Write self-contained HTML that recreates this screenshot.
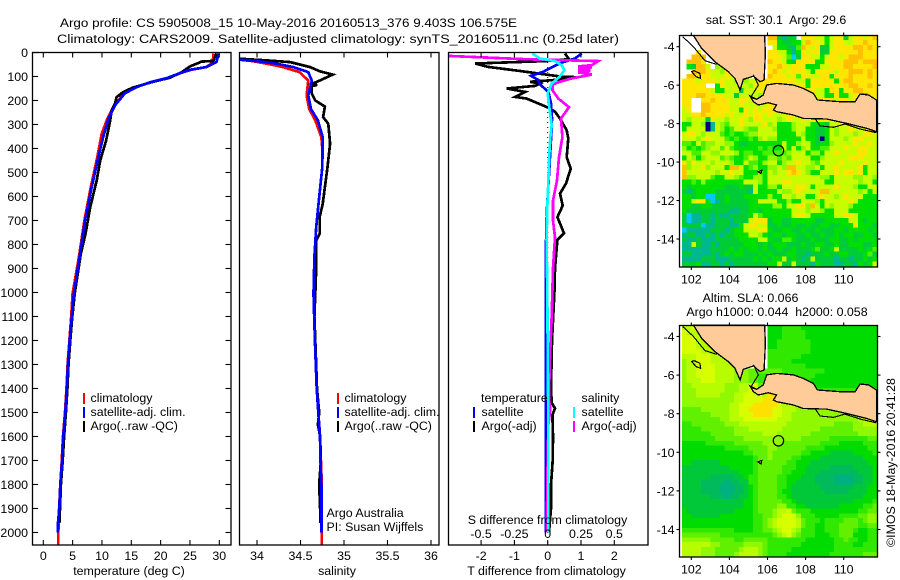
<!DOCTYPE html>
<html lang="en">
<head>
<meta charset="utf-8">
<title>Argo profile</title>
<style>
html,body{margin:0;padding:0;background:#fff;width:900px;height:580px;overflow:hidden}
svg{display:block}
text{font-family:"Liberation Sans",sans-serif;font-size:12.4px;fill:#000}
.frame{fill:none;stroke:#000;stroke-width:1.3}
.line{fill:none;stroke-width:2.7;shape-rendering:crispEdges;stroke-linejoin:miter}
</style>
</head>
<body>
<svg id="chart" xmlns="http://www.w3.org/2000/svg" width="900" height="580" viewBox="0 0 900 580">
<text x="60" y="27" textLength="457" lengthAdjust="spacingAndGlyphs">Argo profile: CS 5905008_15 10-May-2016 20160513_376 9.403S 106.575E</text>
<text x="57" y="43" textLength="562" lengthAdjust="spacingAndGlyphs">Climatology: CARS2009. Satellite-adjusted climatology: synTS_20160511.nc (0.25d later)</text>

<g id="p1"></g>
<g id="p2"></g>
<g id="p3"></g>
<g id="m1"></g>
<g id="m2"></g>

<rect class="frame" x="32.5" y="52.5" width="198.5" height="492.5"/>
<rect class="frame" x="239.5" y="52.5" width="199.5" height="492.5"/>
<rect class="frame" x="448.5" y="52.5" width="199.5" height="492.5"/>
<rect class="frame" x="679.5" y="35.5" width="198" height="231.5"/>
<rect class="frame" x="679.5" y="325.5" width="198" height="231.5"/>

<g id="labels"></g>

<text x="129" y="575" text-anchor="middle">temperature (deg C)</text>
<text x="337" y="575" text-anchor="middle">salinity</text>
<text x="546.5" y="575" text-anchor="middle">T difference from climatology</text>
<text x="547.5" y="524" text-anchor="middle">S difference from climatology</text>

<g>
<rect x="83" y="393" width="2" height="11" fill="#f00"/>
<text x="90.5" y="402">climatology</text>
<rect x="83" y="407" width="2" height="11" fill="#00f"/>
<text x="90.5" y="416">satellite-adj. clim.</text>
<rect x="83" y="421" width="2" height="11" fill="#000"/>
<text x="90.5" y="430">Argo(..raw -QC)</text>
</g>
<g>
<rect x="337" y="393" width="2" height="11" fill="#f00"/>
<text x="344.5" y="402">climatology</text>
<rect x="337" y="407" width="2" height="11" fill="#00f"/>
<text x="344.5" y="416">satellite-adj. clim.</text>
<rect x="337" y="421" width="2" height="11" fill="#000"/>
<text x="344.5" y="430">Argo(..raw -QC)</text>
<text x="326.5" y="517">Argo Australia</text>
<text x="326.5" y="531">PI: Susan Wijffels</text>
</g>
<g>
<text x="481" y="402">temperature</text>
<text x="581.5" y="402">salinity</text>
<rect x="473" y="407" width="2" height="11" fill="#00f"/>
<text x="481.5" y="416">satellite</text>
<rect x="473" y="421" width="2" height="11" fill="#000"/>
<text x="481.5" y="430">Argo(-adj)</text>
<rect x="573" y="407" width="2" height="11" fill="#0ff"/>
<text x="581.5" y="416">satellite</text>
<rect x="573" y="421" width="2" height="11" fill="#f0f"/>
<text x="581.5" y="430">Argo(-adj)</text>
</g>

<text x="776" y="24" text-anchor="middle" xml:space="preserve">sat. SST: 30.1  Argo: 29.6</text>
<text x="750.5" y="302" text-anchor="middle">Altim. SLA: 0.066</text>
<text x="777" y="316" text-anchor="middle" xml:space="preserve">Argo h1000: 0.044  h2000: 0.058</text>
<text transform="translate(895 547) rotate(-90)">©IMOS 18-May-2016 20:41:28</text>
</svg>
<script>
// ---------- profile data ----------
const depthTicks = [0,100,200,300,400,500,600,700,800,900,1000,1100,1200,1300,1400,1500,1600,1700,1800,1900,2000];
const tempTicks = [0,5,10,15,20,25,30];
const salTicks = [34,34.5,35,35.5,36];
const salTickLabels = ['34','34.5','35','35.5','36'];
const tDiffTicks = [-2,-1,0,1,2];
const sDiffTicks = [-0.5,-0.25,0,0.25,0.5];
const sDiffTickLabels = ['-0.5','-0.25','0','0.25','0.5'];

const climTempDepth = [4,36,50,61,72,86,107,124,144,170,221,276,339,436,561,700,839,1005,1100,1200,1300,1400,1500,1600,1700,1800,1900,2000,2054];
const climTempValue = [29,28.9,28.5,27.7,25.2,23.4,21,18.2,15.8,13.8,12.1,10.9,9.95,9.2,8.1,7,6.15,5,4.75,4.45,4.15,3.95,3.7,3.35,3.15,2.9,2.7,2.55,2.55];
const argoTempDepth = [4,35,38,58,82,105,124,146,165,186,214,241,283,367,450,533,645,756,839,1005,1100,1200,1300,1400,1500,1600,1700,1800,1900,1960];
const argoTempValue = [29.5,29,27,25,23.6,21.6,18.4,15.3,13.6,12.5,12.2,11.65,11.4,10.7,9.7,9.1,8,7.2,6.4,5.35,4.95,4.6,4.3,4.1,3.85,3.55,3.3,3,2.85,2.75];
const satTempDepth = [4,40,61,72,86,107,124,144,170,221,276,353,436,561,700,839,1005,1100,1200,1300,1400,1500,1600,1700,1800,1900,1960,2000];
const satTempValue = [29.9,29.5,27.8,25,23.3,21,18.2,15.9,13.9,12.2,11.1,10.2,9.4,8.25,7.1,6.25,5.2,4.85,4.5,4.2,4,3.75,3.4,3.2,2.9,2.73,2.5,2.5];

const climSalDepth = [30,36,47,61,82,117,179,235,283,353,400,478,603,728,853,1005,1200,1400,1500,1600,1700,1800,2054];
const climSalValue = [33.8,33.95,34.12,34.3,34.49,34.59,34.57,34.6,34.67,34.74,34.75,34.75,34.715,34.68,34.66,34.65,34.665,34.69,34.705,34.725,34.735,34.745,34.745];
const argoSalDepth = [26,33,40,61,78,92,117,131,136,140,171,200,225,269,297,380,478,561,631,686,756,783,900,1005,1100,1200,1400,1500,1550,1600,1700,1800,1900,1960];
const argoSalValue = [33.8,34.11,34.38,34.61,34.72,34.87,34.72,34.63,34.69,34.63,34.63,34.67,34.78,34.76,34.82,34.84,34.81,34.78,34.755,34.72,34.72,34.68,34.68,34.67,34.66,34.67,34.69,34.715,34.7,34.725,34.735,34.715,34.725,34.73];
const satSalDepth = [30,36,47,61,82,117,179,235,283,353,478,603,728,853,1005,1200,1400,1500,1600,1700,1800,2000];
const satSalValue = [33.8,34,34.23,34.42,34.59,34.63,34.59,34.62,34.7,34.755,34.75,34.715,34.68,34.66,34.65,34.665,34.686,34.705,34.724,34.73,34.74,34.74];

const argoTDiffDepth = [4,28,36,42,46,60,78,101,103,111,122,129,139,150,164,185,192,230,247,275,324,358,436,484,546,588,638,686,753,780,900,1000,1200,1400,1460,1483,1510,1600,1700,1800,1900,2000];
const argoTDiffValue = [0.52,0.64,-0.08,-1.38,-2.18,-1.79,-0.78,0.42,0.87,0.57,-0.53,-0.23,-0.38,-1.23,-0.68,-0.98,-0.63,0.02,0.22,0.37,0.57,0.62,0.57,0.69,0.55,0.37,0.45,0.29,0.49,0.29,0.22,0.2,0.13,0.1,0.12,0.22,0.14,0.16,0.15,0.1,0.1,0.04];
const satTDiffDepth = [4,25,42,55,80,97,115,133,164,212,275,312,436,550,670,800,1000,1500,2000];
const satTDiffValue = [1.02,0.82,0.42,0.22,-0.13,-0.5,-0.28,-0.23,0.02,0.1,0.13,0.12,0.07,0.02,-0.03,-0.05,-0.05,-0.05,-0.05];
const argoSDiffDepth = [14,28,36,53,58,62,66,70,74,78,83,92,108,122,133,157,192,228,275,353,436,533,617,700,770,900,1100,1300,1450,1483,1550,1700,1900,2000];
const argoSDiffValue = [-0.75,-0.17,0.38,0.33,0.23,0.33,0.23,0.32,0.23,0.32,0.23,0.33,0.18,0.09,0.04,0.035,0.08,0.16,0.1,0.11,0.085,0.07,0.04,0.04,0.055,0.04,0.03,0.015,0.01,0.02,0.005,0,-0.005,-0.005];
const satSDiffDepth = [4,25,36,53,74,100,129,170,219,303,350,421,533,644,780,1000,1500,2000];
const satSDiffValue = [-0.115,-0.06,0.055,0.105,0.125,0.09,0.03,0,0.01,0.03,0.02,0.012,0.005,-0.003,-0.008,-0.003,0.004,0.005];

// ---------- map data: "west|east", 18 and 23 cells, north to south, 0.25 degree ----------
const mapLonTicks = [102,104,106,108,110];
const mapLatTicks = [-4,-6,-8,-10,-12,-14];
const argoLon = 106.575;
const argoLat = -9.403;
const sstRows = [
"|993233.8887747883788789","|88433447988747887788988","|.7443259878337888899898","...8|88774248788338888889888",
"..999|88875138877478878999888",".9998|98874388884488889998999",".43997.67|88987888444778889988889","..99987768|89878888748888788999898",
".9988877787|98887858877884888988898","888788878776767788|88888877488888489988888","88888..48777776888|88888788488888888998898","888888744777377787|88887788887748848899888",
"888998888773777768|78888888887744844788488","88..88988877887766|88888888888888788788348","88..99888877877777|88888888888888888888888","78..99888877487878|88778878778888888888888",
"778898888787787887|87778887887888888788878","767773877677876887|77678778787888887888878","447760276577877778|67444677744437787877887","477770276457765577|76444677443347677877887",
"788767775454456677|77444476443347677767887","777678777545445467|66444447443047776788777","554756677664334444|44474467743446777787787","645456775754444454|54474746744557778778877",
"775577667776455445|55556777466477877778877","476467775654457644|66565777744677777888777","868777677764475546|77467787765777787777877","967786777499745644|66769977667477877778477",
"977777767787744464|76778987644777878878477","966777544776544664|77777777777664777766776","445464444444477764|77788777777744777776774","434444444333433744|66477788747777877764477",
"323444433333332744|44766787777997777776747","443441133433344444|64477677447877678777444","447884123433334477|77446447776477777874444","443344333333334444|46647788697476777644444",
"433333333322334434|44444777677644777444444","312233232233334754|44444788744444778874444","312233233323337888|34433444443344444774344","333312233322478877|33433433433443344484443",
"122222333234477788|43344334334333443444434","233223232334447764|34434433433433434433443","322322233333444477|43355433343334433434444","227322323333344434|34443334334433433444334",
"222222333343434434|33433433345334733334345","332222323434433343|43334433233343344333453","222233322233333434|34473432373333233233434","333422332323333333|44733733324333223324347"
];
const slaRows = [
"778|33344443333333333333333","8777|33344444333333333333333","88877|33344444333333333333333","888777|33444444433333333333333",
"8887777|33444444433333333333333","88887777|44444444433333333333333","777888777|44444443333333333333333","6778887777|44444333333333333333333",
"677888877776|44444444333333333333333","677888877776665555|55544444444433333333333","677888877776665544|55544444443333333333333","677788877776665544|55554444433333333333333",
"667777777666778855|66555444443333333333333","666777777666778866|77665555444444444444444","666777776667788887|99666666666666666666666","666666666667788889|99888776666666666666666",
"666666666677888999|99877766666666666666666","555566666677889999|98877766666666666666655","555555666677888999|98877666666666666666655","555555556677788888|88777666666666666667777",
"445555555666777777|77776666666666555566777","444455555556667777|77766666666555555566666","444444555556666667|77666666655555555556666","444444455555566666|66666665555554444444455",
"333334444445555556|66655555555444433333444","333333333444445555|66555555444433333333344","333333333333344555|65555554433332222233334","333333333333333455|65555443333222222222333",
"332222223333333455|55554433322222222222233","222222222233333455|55544433222221111122223","222222222222333455|55544333222111111112223","222222111112234455|55443332221111000011223",
"222211111011224455|55443322221111000011223","222211110001123455|55443222222111111122233","222211110001123455|55433222222211111222233","222222111011223455|55443222222222222222333",
"222222222222233455|55544322222222222233334","222222222222233455|55664433222222233333445","322222222223333455|56778544433333333334455","332222223333333445|56788864443333344445566",
"333333333333333445|67888875444344445554566","333333333333333445|67888875443344455554455","444444444443333445|56788764443344455543344","555555554444444444|45678654443334455533344",
"666666555554455555|44444444333333445443344","777777665555566665|44444443333333444433444","777766655555677765|44444333333333444444444","777766655556777765|44443333333334444444555"
];
const sumatraLon = [102.11,102.54,103.24,103.94,104.29,104.56,104.73,105.26,105.61,105.82,105.89,105.85];
const sumatraLat = [-3.41,-4.09,-4.78,-5.3,-5.65,-6.25,-5.7,-5.53,-5.82,-5.73,-4.35,-3.41];
const javaLon = [105.08,105.43,105.78,105.96,106.48,107.36,107.88,108.41,108.62,109.81,110.6,110.86,111.3,111.72,111.72,111.21,110.16,109.11,107.88,107.36,106.48,106.31,106.48,106.04,105.52,105.26];
const javaLat = [-6.56,-6.74,-6.51,-5.99,-5.91,-5.99,-6.17,-6.43,-6.77,-6.86,-6.86,-6.46,-6.51,-6.77,-8.42,-8.25,-7.99,-7.76,-7.73,-7.55,-7.38,-7.29,-7.03,-6.91,-7.03,-6.86];
const westContourLon = [101.55,102.11,102.72,103.33];
const westContourLat = [-3.48,-4,-4.73,-4.92];
const southContourLon = [108.49,108.76,109.46,110.07,110.86,111.7];
const southContourLat = [-7.73,-8.12,-8.19,-8.02,-8.28,-8.47];
const straitLon = [105.26,105.52,105.12,105.43];
const straitLat = [-5.46,-5.99,-6.63,-6.74];
const islandLon = [102.14,102.45,102.49,102.25,102.02,102.14];
const islandLat = [-5.25,-5.39,-5.65,-5.56,-5.3,-5.25];
const tinyIslandLon = [105.5,105.7,105.66,105.5];
const tinyIslandLat = [-10.5,-10.42,-10.6,-10.5];
const sstPalette = ['#00008c','#00c8ff','#00b890','#00cc38','#00e000','#48f000','#90f800','#c8fc00','#ffe600','#ffc000'];
const slaPalette = ['#00b080','#00ba5c','#00c838','#00dc00','#30e800','#60f000','#90f800','#b8fc00','#d8ff00','#ffe000'];

// ---------- axis functions ----------
const NS = 'http://www.w3.org/2000/svg';
const yDepth = d => 52.5 + d * 0.24;
const xTemp = t => 43.3 + t * 5.867;
const xSal = s => 257 + (s - 34) * 87;
const xTDiff = v => 547.7 + v * 33.3;
const xSDiff = v => 547.7 + v * 133.2;
const xLon = lon => 691.3 + (lon - 102) * 19.05;
const yLat1 = lat => 46.7 + (-4 - lat) * 19.23;
const yLat2 = lat => 336.5 + (-4 - lat) * 19.3;
const byId = id => document.getElementById(id);

function make(parent, tag, attrs) {
  const el = document.createElementNS(NS, tag);
  for (const k in attrs) el.setAttribute(k, attrs[k]);
  parent.appendChild(el);
  return el;
}
function profile(parent, name, xFn, depths, values, color) {
  const pts = depths.map((d, i) => xFn(values[i]).toFixed(1) + ',' + yDepth(d).toFixed(1)).join(' ');
  const el = make(parent, 'polyline', {points: pts, stroke: color, class: 'line'});
  
  
}
function tick(parent, name, x1, y1, x2, y2) {
  const el = make(parent, 'line', {x1: x1, y1: y1, x2: x2, y2: y2, stroke: '#000', 'stroke-width': 1.1});
  
  
}
function label(name, x, y, anchor, str) {
  const el = make(byId('labels'), 'text', {x: x, y: y, 'text-anchor': anchor});
  el.textContent = str;
  
  
}

// ---------- profile panels ----------
profile(byId('p1'), 'temperature-climatology-line', xTemp, climTempDepth, climTempValue, '#f00');
profile(byId('p1'), 'temperature-argo-line', xTemp, argoTempDepth, argoTempValue, '#000');
profile(byId('p1'), 'temperature-satellite-line', xTemp, satTempDepth, satTempValue, '#00f');
profile(byId('p2'), 'salinity-climatology-line', xSal, climSalDepth, climSalValue, '#f00');
profile(byId('p2'), 'salinity-argo-line', xSal, argoSalDepth, argoSalValue, '#000');
profile(byId('p2'), 'salinity-satellite-line', xSal, satSalDepth, satSalValue, '#00f');

const zeroLine = make(byId('p3'), 'line', {x1: xTDiff(0), y1: 52, x2: xTDiff(0), y2: 545, stroke: '#000', 'stroke-width': 1, 'stroke-dasharray': '1 4'});


profile(byId('p3'), 't-difference-argo-line', xTDiff, argoTDiffDepth, argoTDiffValue, '#000');
profile(byId('p3'), 't-difference-satellite-line', xTDiff, satTDiffDepth, satTDiffValue, '#00f');
profile(byId('p3'), 's-difference-argo-line', xSDiff, argoSDiffDepth, argoSDiffValue, '#f0f');
profile(byId('p3'), 's-difference-satellite-line', xSDiff, satSDiffDepth, satSDiffValue, '#0ff');

depthTicks.forEach(d => {
  tick(byId('p1'), 'depth-tick-left', 32.5, yDepth(d), 38, yDepth(d));
  tick(byId('p1'), 'depth-tick-right', 225.5, yDepth(d), 231, yDepth(d));
  label('depth-tick-label', 28, yDepth(d) + 4.5, 'end', String(d));
});
tempTicks.forEach(t => {
  tick(byId('p1'), 'temperature-tick-top', xTemp(t), 52.5, xTemp(t), 57.5);
  tick(byId('p1'), 'temperature-tick-bottom', xTemp(t), 540, xTemp(t), 545);
  label('temperature-tick-label', xTemp(t), 560, 'middle', String(t));
});
salTicks.forEach((s, i) => {
  tick(byId('p2'), 'salinity-tick-top', xSal(s), 52.5, xSal(s), 57.5);
  tick(byId('p2'), 'salinity-tick-bottom', xSal(s), 540, xSal(s), 545);
  label('salinity-tick-label', xSal(s), 560, 'middle', salTickLabels[i]);
});
tDiffTicks.forEach(v => {
  tick(byId('p3'), 't-difference-tick-top', xTDiff(v), 52.5, xTDiff(v), 57.5);
  tick(byId('p3'), 't-difference-tick-bottom', xTDiff(v), 540, xTDiff(v), 545);
  label('t-difference-tick-label', xTDiff(v), 560, 'middle', String(v));
});
sDiffTicks.forEach((v, i) => {
  label('s-difference-tick-label', xSDiff(v), 538, 'middle', sDiffTickLabels[i]);
});

// ---------- maps ----------
const firstLon = 101.5;
const firstLat = -3.41;
const cellDeg = 0.25;

function coastPoints(lons, lats, yFn) {
  return lons.map((lon, i) => xLon(lon).toFixed(1) + ',' + yFn(lats[i]).toFixed(1)).join(' ');
}
function drawMap(group, prefix, rows, palette, yFn, top, bottom) {
  rows.forEach((row, j) => {
    const parts = row.split('|');
    const full = parts[0].padEnd(18, '.') + (parts[1] || '');
    for (let i = 0; i < full.length; i++) {
      const ch = full[i];
      if (ch === '.') continue;
      const x0 = xLon(firstLon + i * cellDeg);
      const x1 = xLon(firstLon + (i + 1) * cellDeg);
      const y0 = yFn(firstLat - j * cellDeg);
      const y1 = yFn(firstLat - (j + 1) * cellDeg);
      const cell = make(group, 'rect', {x: x0.toFixed(2), y: y0.toFixed(2), width: (x1 - x0 + 0.3).toFixed(2), height: (y1 - y0 + 0.3).toFixed(2), fill: palette[+ch], 'shape-rendering': 'crispEdges'});
      
      
    }
  });
  const sumatra = make(group, 'polygon', {points: coastPoints(sumatraLon, sumatraLat, yFn), fill: '#ffcc99', stroke: '#000', 'stroke-width': 1.3, 'shape-rendering': 'crispEdges'});
  
  
  const java = make(group, 'polygon', {points: coastPoints(javaLon, javaLat, yFn), fill: '#ffcc99', stroke: '#000', 'stroke-width': 1.3, 'shape-rendering': 'crispEdges'});
  
  
  const west = make(group, 'polyline', {points: coastPoints(westContourLon, westContourLat, yFn), fill: 'none', stroke: '#000', 'stroke-width': 1.1, 'shape-rendering': 'crispEdges'});
  
  
  const south = make(group, 'polyline', {points: coastPoints(southContourLon, southContourLat, yFn), fill: 'none', stroke: '#000', 'stroke-width': 1.1, 'shape-rendering': 'crispEdges'});
  
  
  const strait = make(group, 'polyline', {points: coastPoints(straitLon, straitLat, yFn), fill: 'none', stroke: '#000', 'stroke-width': 1.1, 'shape-rendering': 'crispEdges'});
  
  
  const island = make(group, 'polygon', {points: coastPoints(islandLon, islandLat, yFn), fill: 'none', stroke: '#000', 'stroke-width': 1.2, 'shape-rendering': 'crispEdges'});
  
  
  const tiny = make(group, 'polygon', {points: coastPoints(tinyIslandLon, tinyIslandLat, yFn), fill: '#ffcc99', stroke: '#000', 'stroke-width': 1.2, 'shape-rendering': 'crispEdges'});
  
  
  const marker = make(group, 'circle', {cx: xLon(argoLon), cy: yFn(argoLat), r: 5.2, fill: 'none', stroke: '#000', 'stroke-width': 1.2});
  
  

  mapLonTicks.forEach(lon => {
    tick(group, prefix + '-lon-tick-top', xLon(lon), top - 3, xLon(lon), top);
    tick(group, prefix + '-lon-tick-bottom', xLon(lon), bottom, xLon(lon), bottom + 3);
    label(prefix + '-lon-tick-label', xLon(lon), bottom + 16.5, 'middle', String(lon));
  });
  mapLatTicks.forEach(lat => {
    tick(group, prefix + '-lat-tick-left', 676.5, yFn(lat), 679.5, yFn(lat));
    tick(group, prefix + '-lat-tick-right', 877.5, yFn(lat), 880.5, yFn(lat));
    label(prefix + '-lat-tick-label', 674.5, yFn(lat) + 4.5, 'end', String(lat));
  });
}
drawMap(byId('m1'), 'sst', sstRows, sstPalette, yLat1, 35.5, 267);
drawMap(byId('m2'), 'sla', slaRows, slaPalette, yLat2, 325.5, 557);
</script>
</body>
</html>
